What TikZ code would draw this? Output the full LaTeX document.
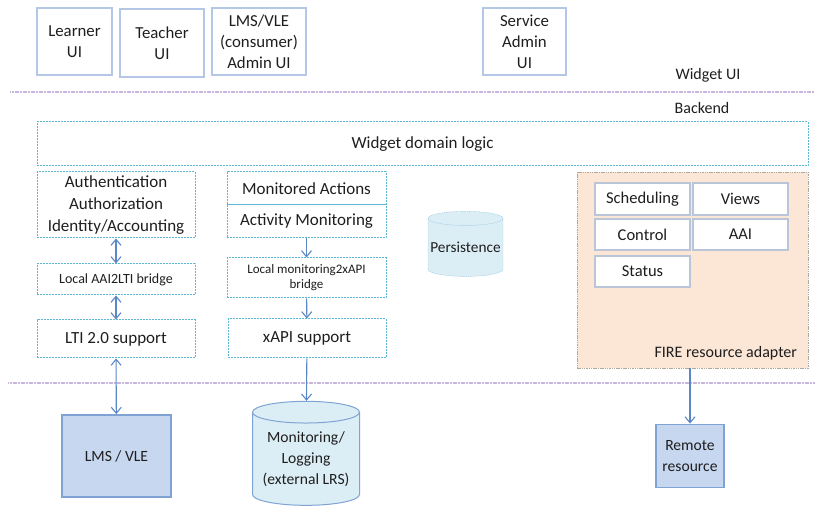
\documentclass[tikz,border=0pt]{standalone}
\usepackage{fontspec}
\setmainfont{Carlito}
\usetikzlibrary{shapes.geometric,arrows.meta}
\definecolor{uiedge}{HTML}{B4C7E7}
\definecolor{dotedge}{HTML}{5BB8D0}
\definecolor{sepline}{HTML}{C8B6DE}
\definecolor{arrowblue}{HTML}{5B87C5}
\definecolor{dbfill}{HTML}{DCEEF5}
\definecolor{dbedge}{HTML}{9CC8E0}
\definecolor{extfill}{HTML}{C6D7EF}
\definecolor{extedge}{HTML}{7FA3D3}
\definecolor{firefill}{HTML}{FCE6D6}
\definecolor{fireedge}{HTML}{B0A89F}
\definecolor{subedge}{HTML}{BAC6D8}
\definecolor{txt}{HTML}{1E1E1E}
\tikzset{
  uibox/.style={draw=uiedge,line width=1.2pt,align=center,inner sep=0pt,text=txt,
    font=\fontsize{16.8}{21}\selectfont},
  logicbox/.style={draw=dotedge,dash pattern=on 2pt off 1pt,line width=1pt,align=center,
    inner sep=0pt,text=txt,font=\fontsize{17}{22}\selectfont},
  subbox/.style={draw=subedge,line width=1.3pt,fill=white,align=center,inner sep=0pt,
    text=txt,minimum width=95pt,minimum height=31pt,font=\fontsize{16.5}{19}\selectfont},
  extbox/.style={draw=extedge,line width=1.8pt,fill=extfill,align=center,inner sep=0pt,
    text=txt,font=\fontsize{15.6}{21}\selectfont},
  dbshape/.style={shape=cylinder,shape border rotate=90,fill=dbfill,draw=dbedge,
    align=center,inner sep=0pt,text=txt,font=\fontsize{15.6}{21}\selectfont},
  label/.style={text=txt,inner sep=0pt,font=\fontsize{16}{19}\selectfont},
  sep/.style={draw=sepline,line width=1.3pt,dash pattern=on 1.2pt off 0.4pt},
  link/.style={draw=arrowblue,line width=1.1pt}
}
\begin{document}
\begin{tikzpicture}[x=1pt,y=-1pt]
  \useasboundingbox (0,0) rectangle (815,513);
  \draw[sep] (10,92) -- (815,92);
  \draw[sep] (8,383) -- (815,383);
  \node[uibox,minimum width=75pt,minimum height=67pt] (learner) at (74.5,41.5) {Learner\\UI};
  \node[uibox,minimum width=84pt,minimum height=68pt] (teacher) at (162,43) {Teacher\\UI};
  \node[uibox,minimum width=94pt,minimum height=67pt] (lmsadmin) at (259,41.5) {LMS/VLE\\(consumer)\\Admin UI};
  \node[uibox,minimum width=83pt,minimum height=67pt] (srvadmin) at (524.5,41.5) {Service\\Admin\\UI};
  \node[label] (widgetui) at (708,75) {Widget UI};
  \node[label] (backend) at (702,108) {Backend};
  \node[logicbox,minimum width=771pt,minimum height=44pt] (domain) at (422.5,144) {Widget domain logic};
  \node[logicbox,minimum width=158pt,minimum height=66pt] (auth) at (116,205) {Authentication\\Authorization\\Identity/Accounting};
  \node[logicbox,minimum width=158pt,minimum height=31pt,font=\fontsize{14}{16}\selectfont] (aaibridge) at (116,279.5) {Local AAI2LTI bridge};
  \node[logicbox,minimum width=158pt,minimum height=38pt] (lti) at (116,339) {LTI 2.0 support};
  \node[logicbox,minimum width=159pt,minimum height=33pt] (monact) at (306.5,188.5) {Monitored Actions};
  \node[logicbox,minimum width=159pt,minimum height=33pt] (actmon) at (306.5,221.5) {Activity Monitoring};
  \node[logicbox,minimum width=159pt,minimum height=40pt,font=\fontsize{13}{15}\selectfont] (monbridge) at (306.5,278) {Local monitoring2xAPI\\bridge};
  \node[logicbox,minimum width=158pt,minimum height=39pt] (xapi) at (307,338.5) {xAPI support};
  \node[dbshape,draw=dbedge,dash pattern=on 1.5pt off 0.8pt,minimum width=75pt,minimum height=65pt,aspect=0.2,font=\fontsize{15.3}{18}\selectfont] (persist) at (465.5,247.5) {Persistence};
  \node[draw=fireedge,dash pattern=on 1.5pt off 0.8pt,fill=firefill,minimum width=231pt,minimum height=196pt] (fire) at (692.5,270) {};
  \node[label,anchor=south east] (firelabel) at ([shift={(-11,-8)}]fire.south east) {FIRE resource adapter};
  \node[subbox,minimum height=32pt] (sched) at (642.5,199) {Scheduling};
  \node[subbox,minimum height=32pt] (views) at (740.5,199) {Views};
  \node[subbox] (control) at (642.5,234.5) {Control};
  \node[subbox] (aai) at (740.5,234.5) {AAI};
  \node[subbox] (status) at (642.5,271.5) {Status};
  \node[extbox,minimum width=109pt,minimum height=82pt] (lms) at (116.5,456) {LMS / VLE};
  \node[dbshape,draw=extedge,line width=1pt,minimum width=107pt,minimum height=104pt,aspect=0.25] (logging) at (306,459) {Monitoring/\\Logging\\(external LRS)};
  \node[extbox,minimum width=68pt,minimum height=63pt] (remote) at (690,456) {Remote\\resource};
  \begin{scope}[link,{Straight Barb[length=6pt,width=10pt]}-{Straight Barb[length=6pt,width=10pt]}]
    \draw (auth) to (aaibridge);
    \draw (aaibridge) to (lti);
    \draw (lti) to (lms);
  \end{scope}
  \begin{scope}[link,-{Straight Barb[length=6pt,width=10pt]}]
    \draw (actmon) to (monbridge);
    \draw (monbridge) to (xapi);
    \draw (xapi) to (logging);
    \draw (fire.south -| remote.north) to (remote);
  \end{scope}
\end{tikzpicture}
\end{document}
